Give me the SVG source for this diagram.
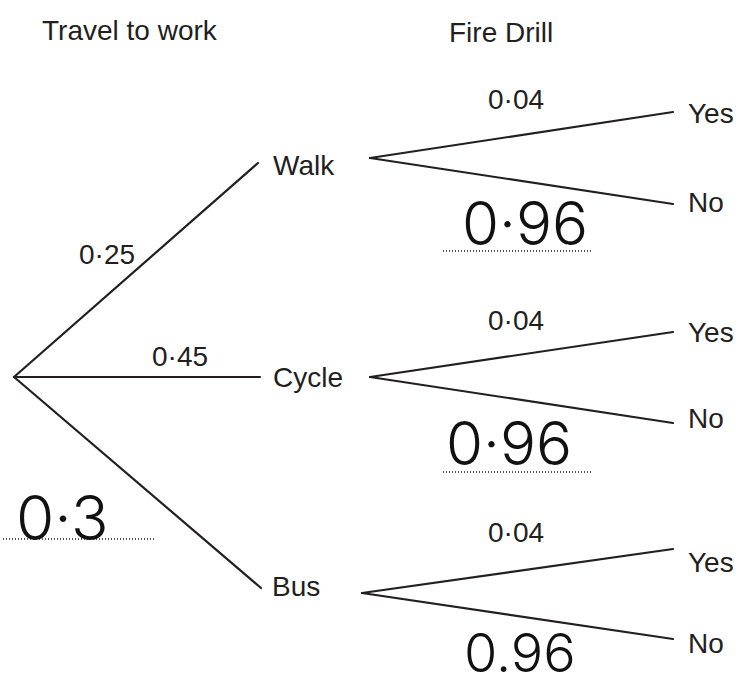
<svg xmlns="http://www.w3.org/2000/svg" width="740" height="686" viewBox="0 0 740 686">
<style>
.t{font-family:"Liberation Sans",Arial,sans-serif;font-size:28px;fill:#231f20}
.h{font-family:Inter,"DejaVu Sans",sans-serif;font-weight:300;fill:#111}
.e{stroke:#231f20;stroke-width:2.2;fill:none;stroke-linecap:round}
.d{stroke:#231f20;stroke-width:1.5;stroke-dasharray:1 2;fill:none}
</style>
<rect width="740" height="686" fill="#fff"/>
<g id="headings">
<text class="t" x="42" y="40">Travel to work</text>
<text class="t" x="449" y="42">Fire Drill</text>
</g>
<g id="connectors">
<line class="e" x1="14" y1="377" x2="258" y2="163"/>
<line class="e" x1="14" y1="377" x2="260" y2="377"/>
<line class="e" x1="14" y1="377" x2="261" y2="588"/>
<line class="e" x1="370" y1="158" x2="673" y2="112"/>
<line class="e" x1="370" y1="158" x2="673" y2="204"/>
<line class="e" x1="370" y1="377" x2="673" y2="332"/>
<line class="e" x1="370" y1="377" x2="673" y2="423"/>
<line class="e" x1="362" y1="593" x2="673" y2="549"/>
<line class="e" x1="362" y1="593" x2="673" y2="639"/>
</g>
<g id="walk"><text class="t" x="273" y="175">Walk</text></g>
<g id="cycle"><text class="t" x="273" y="387">Cycle</text></g>
<g id="bus"><text class="t" x="272" y="596">Bus</text></g>
<g id="walk-yes"><text class="t" x="688" y="123">Yes</text></g>
<g id="walk-no"><text class="t" x="688" y="212">No</text></g>
<g id="cycle-yes"><text class="t" x="688" y="342">Yes</text></g>
<g id="cycle-no"><text class="t" x="688" y="428">No</text></g>
<g id="bus-yes"><text class="t" x="688" y="572">Yes</text></g>
<g id="bus-no"><text class="t" x="688" y="653">No</text></g>
<g id="labels">
<text class="t" x="79" y="264">0·25</text>
<text class="t" x="152" y="366">0·45</text>
<text class="t" x="488" y="109">0·04</text>
<text class="t" x="488" y="330">0·04</text>
<text class="t" x="488" y="542">0·04</text>
</g>
<g id="answers">
<line class="d" x1="3" y1="539" x2="154" y2="539"/>
<line class="d" x1="443" y1="251" x2="593" y2="251"/>
<line class="d" x1="443" y1="472" x2="593" y2="472"/>
<text class="h" x="16" y="540" font-size="62">0·3</text>
<text class="h" x="462" y="245" font-size="60">0·96</text>
<text class="h" x="446" y="465" font-size="60">0·96</text>
<text class="h" x="464" y="672" font-size="54">0.96</text>
</g>
</svg>
